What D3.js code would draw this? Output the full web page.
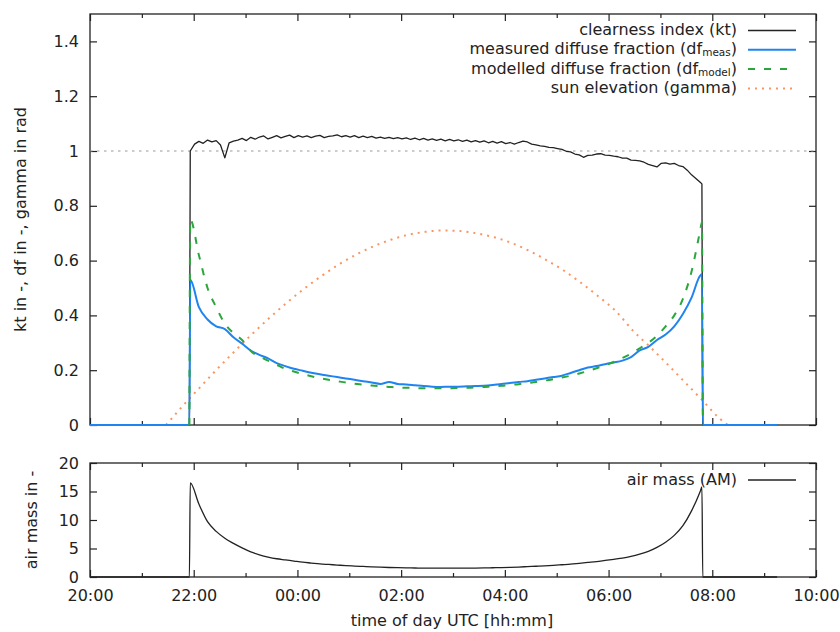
<!DOCTYPE html>
<html>
<head>
<meta charset="utf-8">
<script src="https://cdn.jsdelivr.net/npm/d3@7"></script>
<style>
body { margin: 0; background: #fff; }
svg { display: block; font-family: "DejaVu Sans", sans-serif; }
</style>
</head>
<body>
<svg id="chart" width="840" height="632"></svg>
<script>
// ---- data ----
const dataStart = "20:00", sunrise = "21:55", sunset = "07:49", dataEnd = "09:15";

const xTickLabels = ["20:00", "22:00", "00:00", "02:00", "04:00", "06:00", "08:00", "10:00"];
const yTicksTop = [0, 0.2, 0.4, 0.6, 0.8, 1, 1.2, 1.4];
const yTicksBottom = [0, 5, 10, 15, 20];

// clearness index, 5 min steps
const ktTimes = [
  "21:56","22:01","22:06","22:11","22:16","22:21","22:26","22:31","22:36","22:41","22:46","22:51",
  "22:56","23:01","23:06","23:11","23:16","23:21","23:26","23:31","23:36","23:41","23:46","23:51",
  "23:56","00:01","00:06","00:11","00:16","00:21","00:26","00:31","00:36","00:41","00:46","00:51",
  "00:56","01:01","01:06","01:11","01:16","01:21","01:26","01:31","01:36","01:41","01:46","01:51",
  "01:56","02:01","02:06","02:11","02:16","02:21","02:26","02:31","02:36","02:41","02:46","02:51",
  "02:56","03:01","03:06","03:11","03:16","03:21","03:26","03:31","03:36","03:41","03:46","03:51",
  "03:56","04:01","04:06","04:11","04:16","04:21","04:26","04:31","04:36","04:41","04:46","04:51",
  "04:56","05:01","05:06","05:11","05:16","05:21","05:26","05:31","05:36","05:41","05:46","05:51",
  "05:56","06:01","06:06","06:11","06:16","06:21","06:26","06:31","06:36","06:41","06:46","06:51",
  "06:56","07:01","07:06","07:11","07:16","07:21","07:26","07:31","07:36","07:41","07:46","07:48"
];
const ktValues = [
  1.000,1.025,1.035,1.028,1.040,1.033,1.038,1.022,0.975,1.030,1.036,1.040,
  1.046,1.038,1.050,1.043,1.051,1.055,1.044,1.050,1.056,1.048,1.053,1.058,
  1.049,1.056,1.051,1.055,1.049,1.054,1.057,1.049,1.053,1.055,1.059,1.052,
  1.056,1.051,1.056,1.049,1.054,1.049,1.053,1.047,1.051,1.046,1.050,1.045,
  1.049,1.044,1.048,1.042,1.047,1.041,1.046,1.040,1.044,1.039,1.043,1.037,
  1.042,1.037,1.041,1.035,1.040,1.033,1.038,1.032,1.037,1.030,1.035,1.029,
  1.034,1.027,1.031,1.025,1.031,1.036,1.033,1.025,1.022,1.019,1.017,1.013,
  1.012,1.009,1.006,0.999,0.997,0.989,0.986,0.977,0.984,0.985,0.989,0.990,
  0.985,0.984,0.981,0.979,0.974,0.974,0.967,0.966,0.964,0.959,0.951,0.947,
  0.942,0.955,0.957,0.952,0.955,0.947,0.943,0.930,0.913,0.900,0.886,0.880
];

// diffuse fractions and air mass, 10 min steps
const dayTimes = [
  "21:56","22:06","22:16","22:26","22:36","22:46",
  "22:56","23:06","23:16","23:26","23:36","23:46",
  "23:56","00:06","00:16","00:26","00:36","00:46",
  "00:56","01:06","01:16","01:26","01:36","01:46",
  "01:56","02:06","02:16","02:26","02:36","02:46",
  "02:56","03:06","03:16","03:26","03:36","03:46",
  "03:56","04:06","04:16","04:26","04:36","04:46",
  "04:56","05:06","05:16","05:26","05:36","05:46",
  "05:56","06:06","06:16","06:26","06:36","06:46",
  "06:56","07:06","07:16","07:26","07:36","07:46",
  "07:48"
];
const dfMeas = [
  0.53, 0.43, 0.385, 0.36, 0.35, 0.32,
  0.297, 0.272, 0.256, 0.243, 0.226, 0.215,
  0.205, 0.198, 0.191, 0.185, 0.18, 0.175,
  0.17, 0.165, 0.16, 0.155, 0.15, 0.157,
  0.15, 0.148, 0.145, 0.142, 0.14, 0.139,
  0.14, 0.14, 0.141, 0.142, 0.143, 0.146,
  0.15, 0.153, 0.157, 0.16, 0.165, 0.17,
  0.175, 0.18, 0.19, 0.2, 0.21, 0.215,
  0.222, 0.228, 0.235, 0.248, 0.272, 0.285,
  0.31, 0.33, 0.36, 0.405, 0.465, 0.545,
  0.55
];
const dfModel = [
  0.75, 0.62, 0.50, 0.43, 0.37, 0.335,
  0.31, 0.27, 0.25, 0.235, 0.22, 0.205,
  0.195, 0.186, 0.178, 0.171, 0.165, 0.16,
  0.155, 0.151, 0.147, 0.144, 0.141, 0.139,
  0.137, 0.136, 0.135, 0.134, 0.134, 0.134,
  0.134, 0.135, 0.136, 0.137, 0.139, 0.141,
  0.143, 0.146, 0.149, 0.153, 0.157, 0.162,
  0.167, 0.173, 0.18, 0.188, 0.197, 0.207,
  0.218, 0.23, 0.245, 0.26, 0.28, 0.30,
  0.325, 0.36, 0.40, 0.46, 0.56, 0.71,
  0.74
];
const airMass = [
  16.5, 12.8, 9.7, 8.0, 6.8, 5.9,
  5.1, 4.4, 3.9, 3.5, 3.2, 3.0,
  2.8, 2.6, 2.45, 2.3, 2.2, 2.1,
  2.0, 1.92, 1.85, 1.78, 1.72, 1.67,
  1.63, 1.6, 1.58, 1.56, 1.55, 1.55,
  1.55, 1.55, 1.56, 1.57, 1.59, 1.62,
  1.65, 1.69, 1.75, 1.82, 1.89, 1.96,
  2.05, 2.15, 2.25, 2.4, 2.55, 2.7,
  2.9, 3.1, 3.3, 3.6, 4.0, 4.5,
  5.2, 6.1, 7.3, 9.0, 11.6, 15.0,
  15.8
];

// sun elevation, 20 min steps
const gammaTimes = [
  "21:28","21:48","22:08","22:28","22:48","23:08","23:28","23:48",
  "00:08","00:28","00:48","01:08","01:28","01:48","02:08","02:28",
  "02:48","03:08","03:28","03:48","04:08","04:28","04:48","05:08",
  "05:28","05:48","06:08","06:28","06:48","07:08","07:28","07:48",
  "08:08","08:18"
];
const gammaValues = [
  0.00, 0.072, 0.140, 0.207, 0.271, 0.333, 0.392, 0.447,
  0.498, 0.544, 0.586, 0.622, 0.652, 0.676, 0.694, 0.705,
  0.710, 0.708, 0.699, 0.685, 0.664, 0.636, 0.602, 0.564,
  0.519, 0.470, 0.417, 0.345, 0.285, 0.222, 0.157, 0.092,
  0.025, 0.00
];

const legendTop = [
  {parts: [["clearness index (kt)", false]], color: "#222", width: 1.3, dash: null},
  {parts: [["measured diffuse fraction (df", false], ["meas", true], [")", false]], color: "#1f84f0", width: 2, dash: null},
  {parts: [["modelled diffuse fraction (df", false], ["model", true], [")", false]], color: "#2aa63c", width: 2, dash: "7,9"},
  {parts: [["sun elevation (gamma)", false]], color: "#f99561", width: 2, dash: "2,5"}
];
const legendBottom = [
  {parts: [["air mass (AM)", false]], color: "#222", width: 1.3, dash: null}
];

// ---- layout ----
const left = 90, right = 816;
const top1 = 14, bottom1 = 425, top2 = 463, bottom2 = 577;
const textColor = "#222";
const fontSize = 16;

const baseDay = Date.UTC(2000, 0, 1);
function parseTime(s) {
    let [h, m] = s.split(":").map(Number);
    if (h < 12) h += 24;   // after midnight
    return new Date(baseDay + (h * 60 + m) * 60000);
}

function series(times, values) {
    return times.map((t, i) => ({date: parseTime(t), value: values[i]}));
}
function withZeros(before, data, after) {
    return before.map(t => ({date: parseTime(t), value: 0}))
        .concat(data)
        .concat(after.map(t => ({date: parseTime(t), value: 0})));
}

let svg = d3.select("#chart");

let x = d3.scaleUtc()
    .domain([parseTime(xTickLabels[0]), parseTime(xTickLabels[xTickLabels.length - 1])])
    .range([left, right]);
let yTop = d3.scaleLinear().domain([0, 1.5]).range([bottom1, top1]);
let yBot = d3.scaleLinear().domain([0, 20]).range([bottom2, top2]);

const majors = xTickLabels.map(parseTime);
const minors = d3.utcHour.range(majors[0], majors[majors.length - 1])
    .filter(d => d.getUTCHours() % 2 === 1);
const noLabel = () => "";

function drawFrame(yScale, yTicks, yTop0, yBottom0, xLabels) {
    let g = svg.append("g");

    g.append("g").attr("transform", "translate(0," + yBottom0 + ")")
        .call(d3.axisBottom(x).tickValues(majors).tickSize(-7).tickPadding(13)
            .tickFormat(xLabels ? d3.utcFormat("%H:%M") : noLabel));
    g.append("g").attr("transform", "translate(0," + yBottom0 + ")")
        .call(d3.axisBottom(x).tickValues(minors).tickSize(-4).tickFormat(noLabel));
    g.append("g").attr("transform", "translate(0," + yTop0 + ")")
        .call(d3.axisTop(x).tickValues(majors).tickSize(-7).tickFormat(noLabel));
    g.append("g").attr("transform", "translate(0," + yTop0 + ")")
        .call(d3.axisTop(x).tickValues(minors).tickSize(-4).tickFormat(noLabel));

    g.append("g").attr("transform", "translate(" + left + ",0)")
        .call(d3.axisLeft(yScale).tickValues(yTicks).tickSize(-7).tickPadding(11)
            .tickFormat(d3.format("~g")));
    g.append("g").attr("transform", "translate(" + right + ",0)")
        .call(d3.axisRight(yScale).tickValues(yTicks).tickSize(-7).tickFormat(noLabel));

    g.selectAll(".domain").remove();
    g.selectAll(".tick line").attr("stroke", "#222").attr("stroke-width", 1.2);
    g.selectAll(".tick text")
        .attr("font-family", "DejaVu Sans, sans-serif")
        .attr("font-size", fontSize)
        .attr("fill", textColor);

    g.append("rect")
        .attr("x", left).attr("y", yTop0)
        .attr("width", right - left).attr("height", yBottom0 - yTop0)
        .attr("fill", "none").attr("stroke", "#222").attr("stroke-width", 1.3);
    return g;
}

function drawLegend(items, x0, y0, step) {
    items.forEach(function (d, i) {
        let yy = y0 + i * step;
        let t = svg.append("text")
            .attr("x", x0).attr("y", yy + 4.5)
            .attr("text-anchor", "end")
            .attr("font-size", fontSize)
            .attr("fill", textColor);
        let shift = 0;
        d.parts.forEach(function (p) {
            let dy = (p[1] ? 2 : 0) - shift;
            shift = p[1] ? 2 : 0;
            t.append("tspan")
                .attr("dy", dy)
                .attr("font-size", p[1] ? 10.5 : fontSize)
                .text(p[0]);
        });
        svg.append("line")
            .attr("x1", x0 + 11).attr("x2", x0 + 59)
            .attr("y1", yy).attr("y2", yy)
            .attr("stroke", d.color)
            .attr("stroke-width", d.width)
            .attr("stroke-dasharray", d.dash);
    });
}

// ---- top panel ----
drawFrame(yTop, yTicksTop, top1, bottom1, false);

svg.append("line")
    .attr("x1", left).attr("x2", right)
    .attr("y1", yTop(1)).attr("y2", yTop(1))
    .attr("stroke", "#999").attr("stroke-width", 1)
    .attr("stroke-dasharray", "2.5,4.5");

let lineTop = d3.line().x(d => x(d.date)).y(d => yTop(d.value));
let smoothTop = d3.line().x(d => x(d.date)).y(d => yTop(d.value)).curve(d3.curveMonotoneX);

svg.append("path")
    .datum(series(gammaTimes, gammaValues))
    .attr("d", smoothTop)
    .attr("fill", "none").attr("stroke", legendTop[3].color)
    .attr("stroke-width", 2).attr("stroke-dasharray", legendTop[3].dash);

svg.append("path")
    .datum(withZeros([dataStart, sunrise], series(ktTimes, ktValues), [sunset, dataEnd]))
    .attr("d", lineTop)
    .attr("fill", "none").attr("stroke", legendTop[0].color)
    .attr("stroke-width", 1.3).attr("stroke-linejoin", "round");

svg.append("path")
    .datum(withZeros([dataStart, sunrise], series(dayTimes, dfMeas), [sunset, dataEnd]))
    .attr("d", smoothTop)
    .attr("fill", "none").attr("stroke", legendTop[1].color)
    .attr("stroke-width", 2).attr("stroke-linejoin", "round");

svg.append("path")
    .datum(withZeros([sunrise], series(dayTimes, dfModel), [sunset]))
    .attr("d", smoothTop)
    .attr("fill", "none").attr("stroke", legendTop[2].color)
    .attr("stroke-width", 2).attr("stroke-dasharray", legendTop[2].dash);

drawLegend(legendTop, 737, 30.5, 19.3);

// ---- bottom panel ----
drawFrame(yBot, yTicksBottom, top2, bottom2, true);

let smoothBot = d3.line().x(d => x(d.date)).y(d => yBot(d.value)).curve(d3.curveMonotoneX);
svg.append("path")
    .datum(withZeros([dataStart, sunrise], series(dayTimes, airMass), [sunset, dataEnd]))
    .attr("d", smoothBot)
    .attr("fill", "none").attr("stroke", "#222").attr("stroke-width", 1.3);

drawLegend(legendBottom, 737, 480, 19.3);

// ---- axis titles ----
svg.append("text")
    .attr("transform", "translate(26," + ((top1 + bottom1) / 2) + ") rotate(-90)")
    .attr("text-anchor", "middle")
    .attr("font-size", fontSize).attr("fill", textColor)
    .text("kt in -, df in -, gamma in rad");

svg.append("text")
    .attr("transform", "translate(37," + ((top2 + bottom2) / 2) + ") rotate(-90)")
    .attr("text-anchor", "middle")
    .attr("font-size", fontSize).attr("fill", textColor)
    .text("air mass in -");

svg.append("text")
    .attr("x", (left + right) / 2 - 1).attr("y", 626)
    .attr("text-anchor", "middle")
    .attr("font-size", fontSize).attr("fill", textColor)
    .text("time of day UTC [hh:mm]");
</script>
</body>
</html>
